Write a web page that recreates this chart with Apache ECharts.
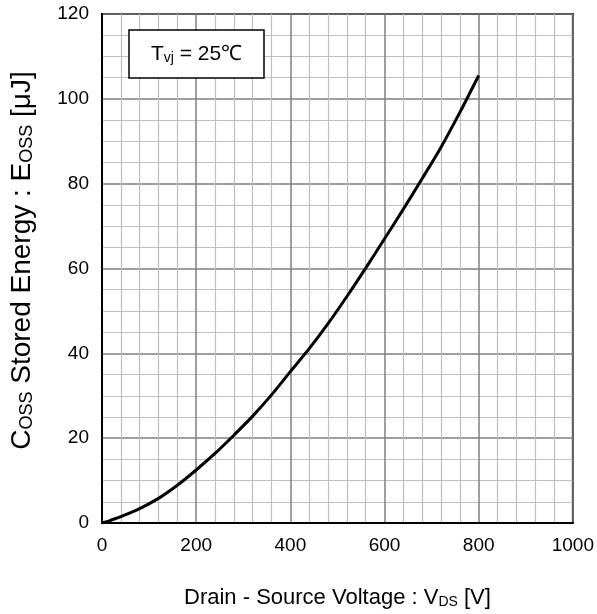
<!DOCTYPE html>
<html>
<head>
<meta charset="utf-8">
<script src="https://cdn.jsdelivr.net/npm/echarts@6/dist/echarts.min.js"></script>
<style>html,body{margin:0;padding:0;background:#fff;}#c{width:597px;height:614px;}</style>
</head>
<body>
<div id="c"></div>
<script>
var voltage = [0, 10, 20, 40, 80, 120, 160, 200, 240, 280, 320, 360, 400, 440, 480, 520, 560, 600, 640, 680, 720, 760, 800];
var energy  = [0, 0.3, 0.7, 1.5, 3.4, 5.8, 8.9, 12.5, 16.4, 20.7, 25.2, 30.2, 35.7, 41.1, 47.0, 53.4, 60.1, 67.0, 74.0, 81.2, 88.6, 96.8, 105.5];
var xTicks = [0, 200, 400, 600, 800, 1000];
var yTicks = [0, 20, 40, 60, 80, 100, 120];

var chart = echarts.init(document.getElementById('c'));
var font = 'Liberation Sans, Arial, sans-serif';
chart.setOption({
  animation: false,
  backgroundColor: '#fff',
  title: {
    left: 129, top: 26,
    padding: [14, 22, 13, 22],
    borderColor: '#000', borderWidth: 1.5, backgroundColor: '#fff',
    text: '{a|T}{b|vj}{a| = 25℃}',
    textStyle: {
      fontWeight: 'normal',
      rich: {
        a: {fontFamily: font, fontSize: 21, fontWeight: 'normal', color: '#000', verticalAlign: 'bottom', lineHeight: 25},
        b: {fontFamily: font, fontSize: 14, fontWeight: 'normal', color: '#000', verticalAlign: 'bottom', lineHeight: 19}
      }
    }
  },
  grid: {left: 101, right: 20, top: 14, bottom: 89, show: true, borderColor: '#000', borderWidth: 2, backgroundColor: 'transparent'},
  xAxis: {
    type: 'value', min: xTicks[0], max: xTicks[xTicks.length - 1], interval: 200,
    name: '{a|Drain - Source Voltage : V}{b|DS}{a| [V]}',
    nameLocation: 'middle', nameGap: 60,
    nameTextStyle: {rich: {
      a: {fontFamily: font, fontSize: 22, color: '#000', verticalAlign: 'bottom', lineHeight: 26},
      b: {fontFamily: font, fontSize: 14, color: '#000', verticalAlign: 'bottom', lineHeight: 17}
    }},
    axisLine: {show: true, lineStyle: {color: '#000', width: 2}},
    axisTick: {show: false},
    axisLabel: {fontFamily: font, fontSize: 19, color: '#000', margin: 13, formatter: function (v) { return String(v); }},
    splitLine: {show: true, lineStyle: {color: '#7f7f7f', width: 1.5}},
    minorTick: {show: false, splitNumber: 5},
    minorSplitLine: {show: true, lineStyle: {color: '#bfbfbf', width: 1.2}}
  },
  yAxis: {
    type: 'value', min: yTicks[0], max: yTicks[yTicks.length - 1], interval: 20,
    name: '{a|C}{b|OSS}{a| Stored Energy : E}{b|OSS}{a| [μJ]}',
    nameLocation: 'middle', nameGap: 66, nameRotate: 90,
    nameTextStyle: {padding: [0, 0, 0, 16], rich: {
      a: {fontFamily: font, fontSize: 28, color: '#000', verticalAlign: 'bottom', lineHeight: 32},
      b: {fontFamily: font, fontSize: 18, color: '#000', verticalAlign: 'bottom', lineHeight: 21}
    }},
    axisLine: {show: true, lineStyle: {color: '#000', width: 2}},
    axisTick: {show: false},
    axisLabel: {fontFamily: font, fontSize: 19, color: '#000', margin: 13},
    splitLine: {show: true, lineStyle: {color: '#7f7f7f', width: 1.5}},
    minorTick: {show: false, splitNumber: 4},
    minorSplitLine: {show: true, lineStyle: {color: '#bfbfbf', width: 1.2}}
  },
  series: [{
    type: 'line',
    data: voltage.map(function (v, i) { return [v, energy[i]]; }),
    smooth: 0.3,
    showSymbol: false,
    lineStyle: {color: '#000', width: 3},
    z: 5
  }]
});
</script>
</body>
</html>
